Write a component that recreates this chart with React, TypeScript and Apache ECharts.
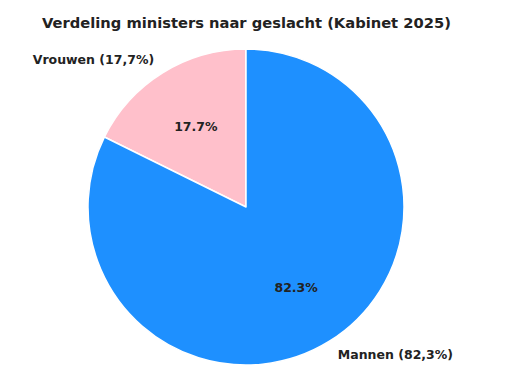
import React, { useEffect, useRef } from "react";
import * as echarts from "echarts";

const titleText = "Verdeling ministers naar geslacht (Kabinet 2025)";
const categories = ["Vrouwen", "Mannen"];
const values = [17.7, 82.3];
const colors = ["#FFC0CB", "#1E90FF"];

const FONT = "'DejaVu Sans', Verdana, sans-serif";

export default function App() {
  const ref = useRef<HTMLDivElement>(null);
  useEffect(() => {
    if (!ref.current) return;
    const chart = echarts.init(ref.current, null, { renderer: "svg" });
    const data = categories.map((name, i) => ({
      name,
      value: values[i],
      itemStyle: { color: colors[i] },
    }));
    chart.setOption({
      animation: false,
      backgroundColor: "#ffffff",
      title: {
        text: titleText,
        left: 37,
        top: 10,
        textStyle: {
          fontFamily: FONT,
          fontSize: 14.7,
          fontWeight: "bold",
          color: "#222222",
        },
      },
      series: [
        {
          type: "pie",
          center: [246, 207],
          radius: 158,
          startAngle: 90,
          clockwise: false,
          avoidLabelOverlap: false,
          silent: true,
          data,
          itemStyle: { borderColor: "#ffffff", borderWidth: 1.5 },
          label: {
            show: true,
            position: "outside",
            distanceToLabelLine: 0,
            fontFamily: FONT,
            fontSize: 12.5,
            fontWeight: "bold",
            color: "#222222",
            formatter: (p: any) =>
              `${p.name} (${Number(p.value).toFixed(1).replace(".", ",")}%)`,
          },
          labelLine: { show: false, length: 16, length2: 0 },
          emphasis: { disabled: true },
        },
        {
          type: "pie",
          center: [246, 207],
          radius: 184,
          startAngle: 90,
          clockwise: false,
          avoidLabelOverlap: false,
          silent: true,
          data: categories.map((name, i) => ({ name, value: values[i] })),
          itemStyle: { color: "rgba(0,0,0,0)", borderWidth: 0 },
          label: {
            show: true,
            position: "inner",
            fontFamily: FONT,
            fontSize: 12.5,
            fontWeight: "bold",
            color: "#222222",
            formatter: (p: any) => `${Number(p.value).toFixed(1)}%`,
          },
          labelLine: { show: false },
          emphasis: { disabled: true },
        },
      ],
    });
    return () => chart.dispose();
  }, []);
  return (
    <div
      ref={ref}
      style={{ position: "fixed", left: 0, top: 0, width: 514, height: 391 }}
    />
  );
}
